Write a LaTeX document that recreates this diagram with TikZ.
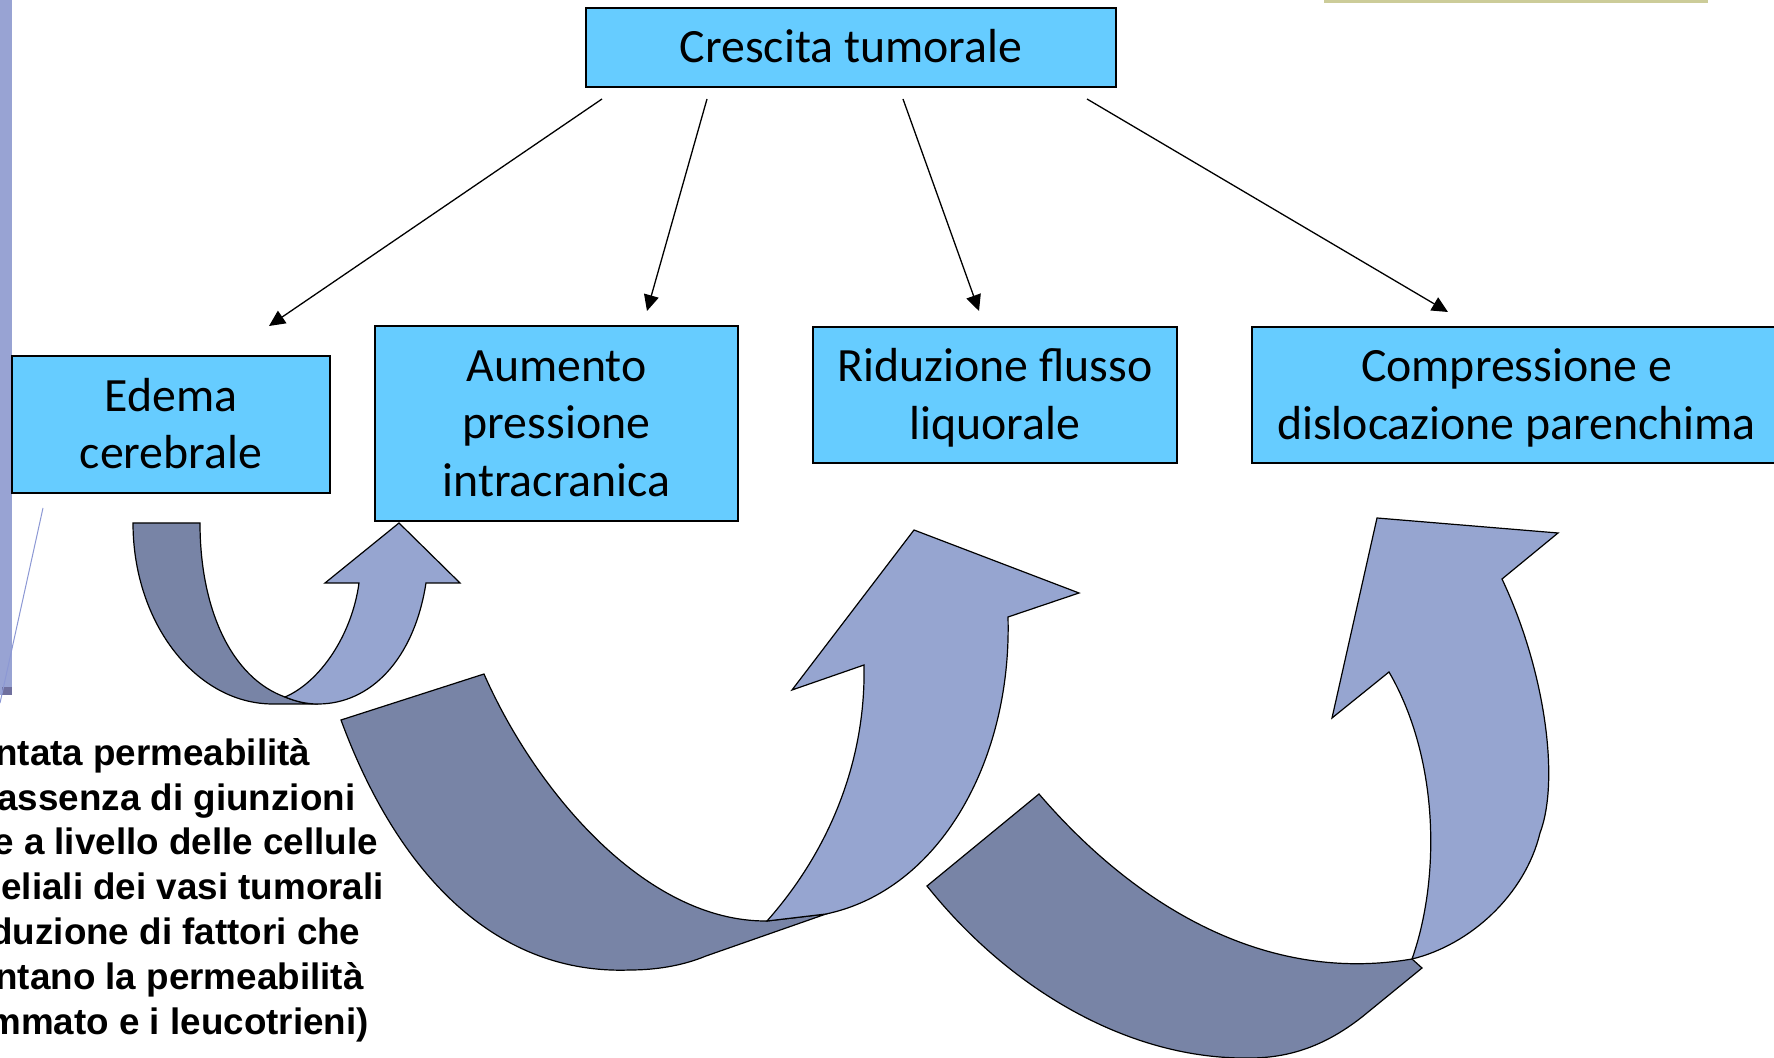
\documentclass[tikz,border=0pt]{standalone}
\usepackage{fontspec}
\newfontfamily\carl{Carlito}
\newfontfamily\lsans{Liberation Sans}
\usetikzlibrary{arrows.meta}
\definecolor{boxfill}{RGB}{102,204,255}
\definecolor{arrlight}{RGB}{150,165,208}
\definecolor{arrdark}{RGB}{120,132,166}
\definecolor{barcol}{RGB}{152,163,211}
\definecolor{sqcol}{RGB}{112,112,158}
\definecolor{thincol}{RGB}{140,152,212}
\definecolor{olivecol}{RGB}{204,204,153}
\newcommand\bxst{\rule[-6.6pt]{0pt}{28.7pt}}
\newcommand\txst{\rule[-6.72pt]{0pt}{22.4pt}}
\begin{document}
\begin{tikzpicture}[x=0.5pt,y=-0.5pt,
  box/.style={draw=black, line width=0.7pt, fill=boxfill, inner sep=0pt, align=center,
    font=\carl\fontsize{23.9pt}{28.7pt}\selectfont},
  conn/.style={line width=0.65pt, -{Triangle[length=8pt,width=7.5pt]}},
  backarr/.style={fill=arrdark, draw=black, line width=0.6pt, line join=miter},
  frontarr/.style={fill=arrlight, draw=black, line width=0.6pt, line join=miter}]
\useasboundingbox (0,0) rectangle (1774,1058);
\clip (0,0) rectangle (1774,1058);
\fill[white] (0,0) rectangle (1774,1058);

% decorative slide remnants
\fill[barcol] (0,0) rectangle (12,695);
\fill[sqcol] (2,687) rectangle (12,695);
\draw[thincol, line width=0.5pt] (43,508) -- (0,703);
\fill[olivecol] (1324,0) rectangle (1708,3);

% small curved arrow
\draw[backarr] (133,523) -- (200,523) .. controls (200,610) and (232,678) .. (285,697)
  .. controls (295,701) and (305,704) .. (318,704) -- (273,704)
  .. controls (196,704) and (133,623) .. (133,523) -- cycle;
\draw[frontarr] (285,697) .. controls (320,682) and (352,635) .. (359,583) -- (325,583)
  -- (399,523) -- (460,583) -- (426,583) .. controls (414,660) and (370,704) .. (318,704)
  .. controls (305,704) and (295,701) .. (285,697) -- cycle;

% middle curved arrow
\draw[backarr] (341,720) -- (484,674) .. controls (535,790) and (645,922) .. (767,921)
  -- (826,914) -- (706,956) .. controls (682,966) and (655,970) .. (630,970)
  .. controls (500,975) and (400,880) .. (341,720) -- cycle;
\draw[frontarr] (767,921) .. controls (830,850) and (866,760) .. (864,665) -- (792,690)
  -- (914,530) -- (1079,593) -- (1008,617) .. controls (1012,760) and (940,890) .. (826,914)
  -- cycle;

% right curved arrow
\draw[backarr] (927,886) -- (1039,794) .. controls (1130,900) and (1260,985) .. (1412,959)
  -- (1422,968) -- (1362,1017) .. controls (1330,1042) and (1295,1058) .. (1250,1058)
  .. controls (1130,1060) and (1010,990) .. (927,886) -- cycle;
\draw[frontarr] (1412,959) .. controls (1440,880) and (1440,760) .. (1389,672) -- (1332,718)
  -- (1377,518) -- (1558,533) -- (1502,579) .. controls (1545,670) and (1560,780) .. (1540,833)
  .. controls (1525,895) and (1470,945) .. (1412,959) -- cycle;

% boxes
\node[box, minimum width=265pt, minimum height=39.5pt] (crescita) at (851,47.5) {\bxst Crescita tumorale};
\node[box, minimum width=159pt, minimum height=68.5pt] (edema) at (171,424.5) {\bxst Edema\\\bxst cerebrale};
\node[box, minimum width=181.5pt, minimum height=97.5pt] (aumento) at (556.5,423.5) {\bxst Aumento\\\bxst pressione\\\bxst intracranica};
\node[box, minimum width=182pt, minimum height=68pt] (riduzione) at (995,395) {\bxst Riduzione flusso\\\bxst liquorale};
\node[box, minimum width=264.5pt, minimum height=68pt] (compress) at (1516.5,395) {\bxst Compressione e\\\bxst dislocazione parenchima};

% connectors
\coordinate (c1s) at (602,99);  \coordinate (c1e) at (269,326);
\coordinate (c2s) at (707,99);  \coordinate (c2e) at (647,311);
\coordinate (c3s) at (903,99);  \coordinate (c3e) at (979,311);
\coordinate (c4s) at (1087,99); \coordinate (c4e) at (1448,312);
\draw[conn] (c1s) -- (c1e);
\draw[conn] (c2s) -- (c2e);
\draw[conn] (c3s) -- (c3e);
\draw[conn] (c4s) -- (c4e);

% clipped text block
\node[anchor=north west, inner sep=0pt, align=left,
  font=\lsans\bfseries\fontsize{18.4pt}{22.4pt}\selectfont] (perm) at (2,733.6)
  {\txst\hspace*{-3.5pt}ntata permeabilità\\
   \txst\hspace*{-2.5pt}assenza di giunzioni\\
   \txst\hspace*{-4.5pt}e a livello delle cellule\\
   \txst\hspace*{-0.5pt}eliali dei vasi tumorali\\
   \txst\hspace*{-6pt}duzione di fattori che\\
   \txst\hspace*{-3.5pt}ntano la permeabilità\\
   \txst\hspace*{-7pt}mmato e i leucotrieni)};
\end{tikzpicture}
\end{document}
